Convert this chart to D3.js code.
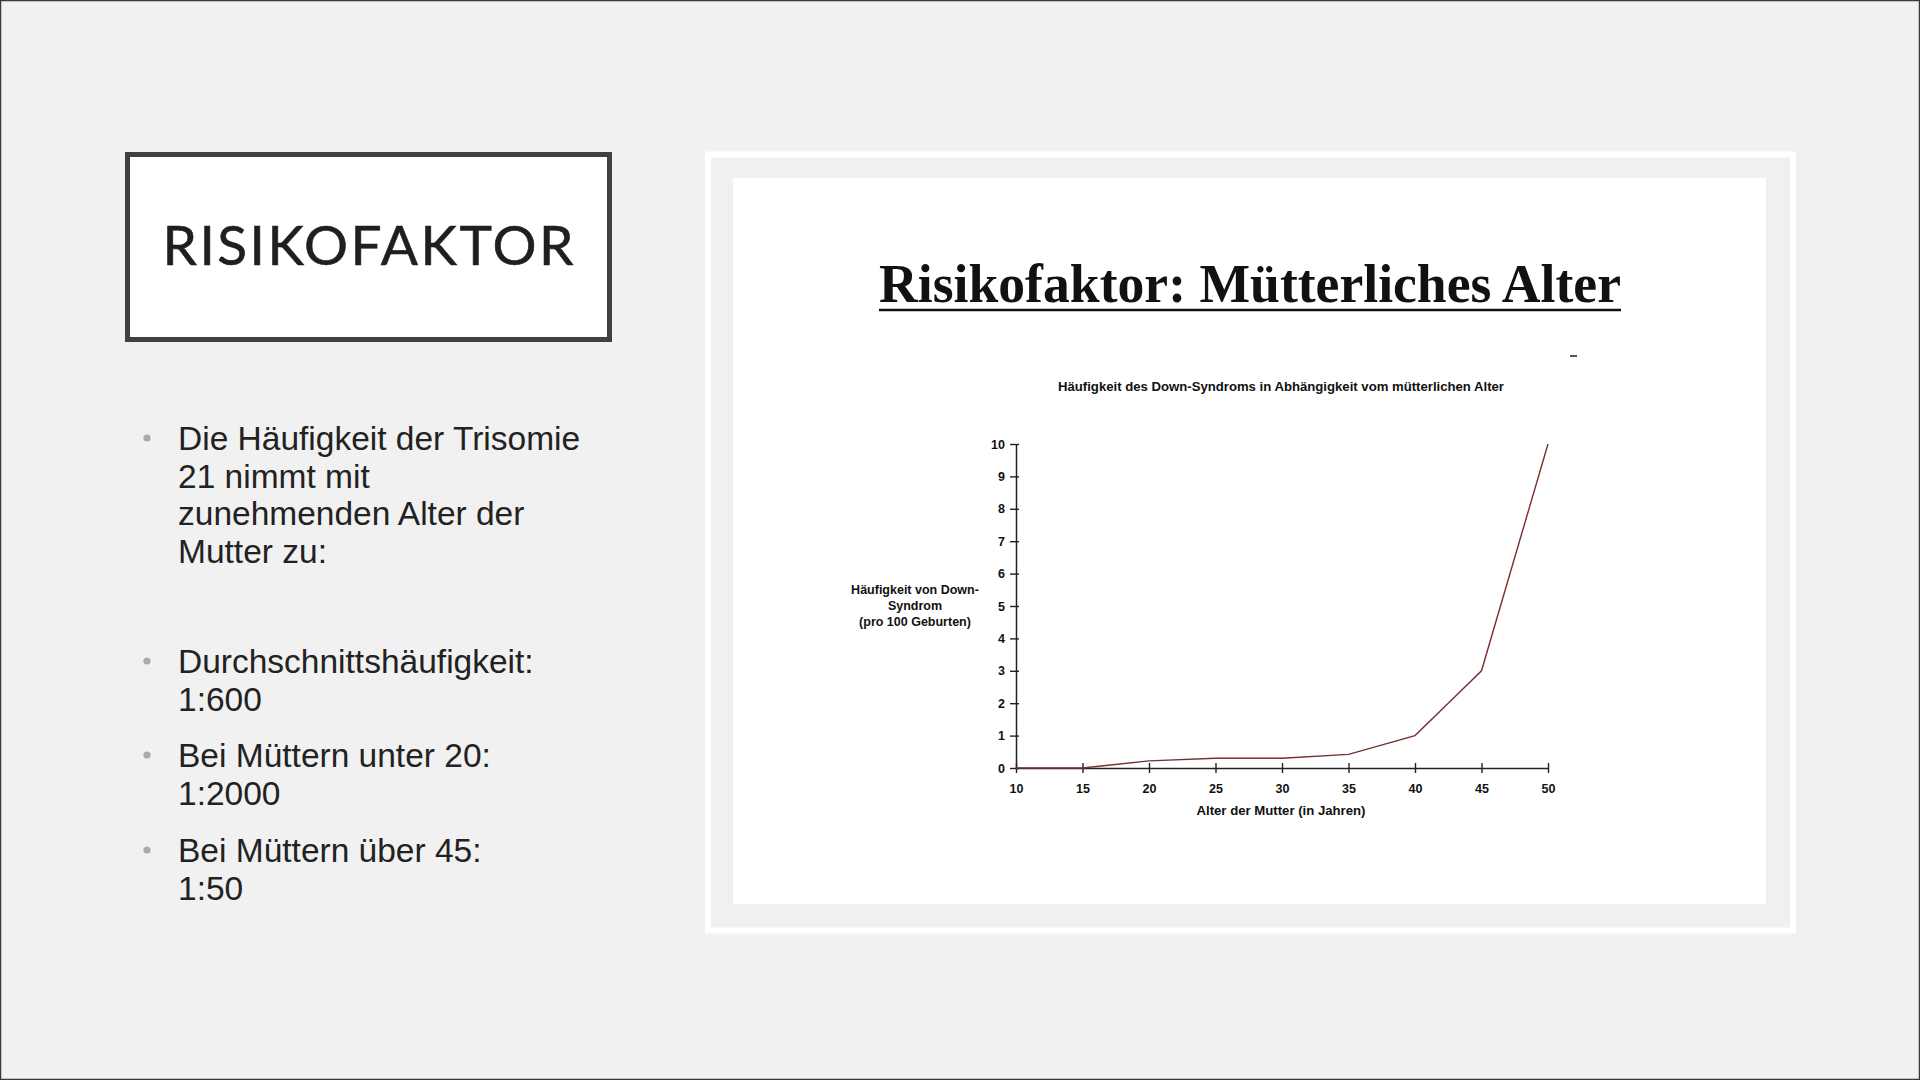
<!DOCTYPE html>
<html>
<head>
<meta charset="utf-8">
<script src="https://cdn.jsdelivr.net/npm/d3@7"></script>
<style>
  html, body { margin: 0; padding: 0; background: #f1f1f1; }
  svg { display: block; }
</style>
</head>
<body>
<svg id="slide" width="1920" height="1080"></svg>
<script>
// chart data
const ages = [10, 15, 20, 25, 30, 35, 40, 43, 45, 50]
const frequency = [0, 0, 0.22, 0.3, 0.3, 0.42, 1.0, 2.2, 3.0, 10]
const xTicks = [10, 15, 20, 25, 30, 35, 40, 45, 50]
const yTicks = [0, 1, 2, 3, 4, 5, 6, 7, 8, 9, 10]

const slideTitle = "RISIKOFAKTOR"
const bulletLines = [
    ["Die Häufigkeit der Trisomie", "21 nimmt mit", "zunehmenden Alter der", "Mutter zu:"],
    ["Durchschnittshäufigkeit:", "1:600"],
    ["Bei Müttern unter 20:", "1:2000"],
    ["Bei Müttern über 45:", "1:50"]
]
const chartHeading = "Risikofaktor: Mütterliches Alter"
const chartTitle = "Häufigkeit des Down-Syndroms in Abhängigkeit vom mütterlichen Alter"
const yLabel = ["Häufigkeit von Down-", "Syndrom", "(pro 100 Geburten)"]
const xLabel = "Alter der Mutter (in Jahren)"

const svg = d3.select("#slide")

// slide background + thin dark frame
svg.append("rect").attr("x", 0.5).attr("y", 0.5).attr("width", 1919).attr("height", 1079)
    .attr("fill", "#f1f1f1").attr("stroke", "#3a3a3a").attr("stroke-width", 1.5)

// ---- left side ----
svg.append("rect")
    .attr("x", 127.5).attr("y", 154.5).attr("width", 482).attr("height", 185)
    .attr("fill", "#ffffff").attr("stroke", "#404040").attr("stroke-width", 5)

svg.append("text")
    .attr("x", 368).attr("y", 265)
    .attr("text-anchor", "middle")
    .attr("font-family", "Lato, 'Open Sans', sans-serif")
    .attr("font-size", 55)
    .attr("fill", "#1f1f1f")
    .attr("stroke", "#1f1f1f").attr("stroke-width", 0.6)
    .attr("textLength", 411)
    .attr("lengthAdjust", "spacing")
    .text(slideTitle)

const bulletStarts = [450, 673, 767, 862]
const lineGap = 37.5
bulletLines.forEach((lines, i) => {
    svg.append("circle")
        .attr("cx", 147).attr("cy", bulletStarts[i] - 12).attr("r", 3.6)
        .attr("fill", "#a3acb1")
    lines.forEach((line, j) => {
        svg.append("text")
            .attr("x", 178).attr("y", bulletStarts[i] + j * lineGap)
            .attr("font-family", "'Liberation Sans', Arial, sans-serif")
            .attr("font-size", 33.5)
            .attr("fill", "#222")
            .text(line)
    })
})

// ---- right panel ----
svg.append("rect")
    .attr("x", 708).attr("y", 154.5).attr("width", 1085).attr("height", 776)
    .attr("fill", "#f0f0f0").attr("stroke", "#ffffff").attr("stroke-width", 6)
svg.append("rect")
    .attr("x", 733).attr("y", 178).attr("width", 1033).attr("height", 726)
    .attr("fill", "#ffffff")

svg.append("text")
    .attr("x", 1250).attr("y", 302)
    .attr("text-anchor", "middle")
    .attr("font-family", "'Liberation Serif', 'DejaVu Serif', serif")
    .attr("font-weight", "bold")
    .attr("font-size", 54)
    .attr("fill", "#111")
    .attr("textLength", 742)
    .attr("lengthAdjust", "spacingAndGlyphs")
    .text(chartHeading)
svg.append("line")
    .attr("x1", 879).attr("x2", 1621).attr("y1", 310).attr("y2", 310)
    .attr("stroke", "#111").attr("stroke-width", 2.5)

// stray little mark
svg.append("line")
    .attr("x1", 1570).attr("x2", 1577).attr("y1", 356).attr("y2", 356)
    .attr("stroke", "#555").attr("stroke-width", 2)

const labelFont = "'Liberation Sans Narrow', 'Liberation Sans', Arial, sans-serif"

svg.append("text")
    .attr("x", 1281).attr("y", 391)
    .attr("text-anchor", "middle")
    .attr("font-family", labelFont).attr("font-weight", "bold")
    .attr("font-size", 12).attr("fill", "#111")
    .attr("textLength", 446).attr("lengthAdjust", "spacingAndGlyphs")
    .text(chartTitle)

const x = d3.scaleLinear().domain([10, 50]).range([1016, 1548])
const y = d3.scaleLinear().domain([0, 10]).range([768, 444])

const xAxis = svg.append("g")
    .attr("transform", "translate(0," + y(0) + ")")
    .call(d3.axisBottom(x).tickValues(xTicks).tickSize(0).tickPadding(16))
xAxis.selectAll(".tick line").attr("y1", -5).attr("y2", 5)
xAxis.selectAll(".tick text")
    .attr("font-family", labelFont).attr("font-weight", "bold")
    .attr("font-size", 12.5).attr("fill", "#111")

const yAxis = svg.append("g")
    .attr("transform", "translate(" + x(10) + ",0)")
    .call(d3.axisLeft(y).tickValues(yTicks).tickSize(0).tickPadding(11))
yAxis.selectAll(".tick line").attr("x1", -6).attr("x2", 3)
yAxis.selectAll(".tick text")
    .attr("font-family", labelFont).attr("font-weight", "bold")
    .attr("font-size", 12.5).attr("fill", "#111")

svg.selectAll(".domain").attr("stroke", "#222").attr("stroke-width", 1.5)
svg.selectAll(".tick line").attr("stroke", "#222").attr("stroke-width", 1.4)

svg.append("path")
    .datum(ages.map((a, i) => [a, frequency[i]]))
    .attr("fill", "none")
    .attr("stroke", "#7a2e2e")
    .attr("stroke-width", 1.4)
    .attr("d", d3.line().x(d => x(d[0])).y(d => y(d[1])))

const yl = svg.append("text")
    .attr("text-anchor", "middle")
    .attr("font-family", labelFont).attr("font-weight", "bold")
    .attr("font-size", 12.5).attr("fill", "#111")
yLabel.forEach((line, i) => {
    yl.append("tspan").attr("x", 915).attr("y", 594 + i * 16).text(line)
})

svg.append("text")
    .attr("x", 1281).attr("y", 815)
    .attr("text-anchor", "middle")
    .attr("font-family", labelFont).attr("font-weight", "bold")
    .attr("font-size", 12.5).attr("fill", "#111")
    .attr("textLength", 169).attr("lengthAdjust", "spacingAndGlyphs")
    .text(xLabel)
</script>
</body>
</html>
